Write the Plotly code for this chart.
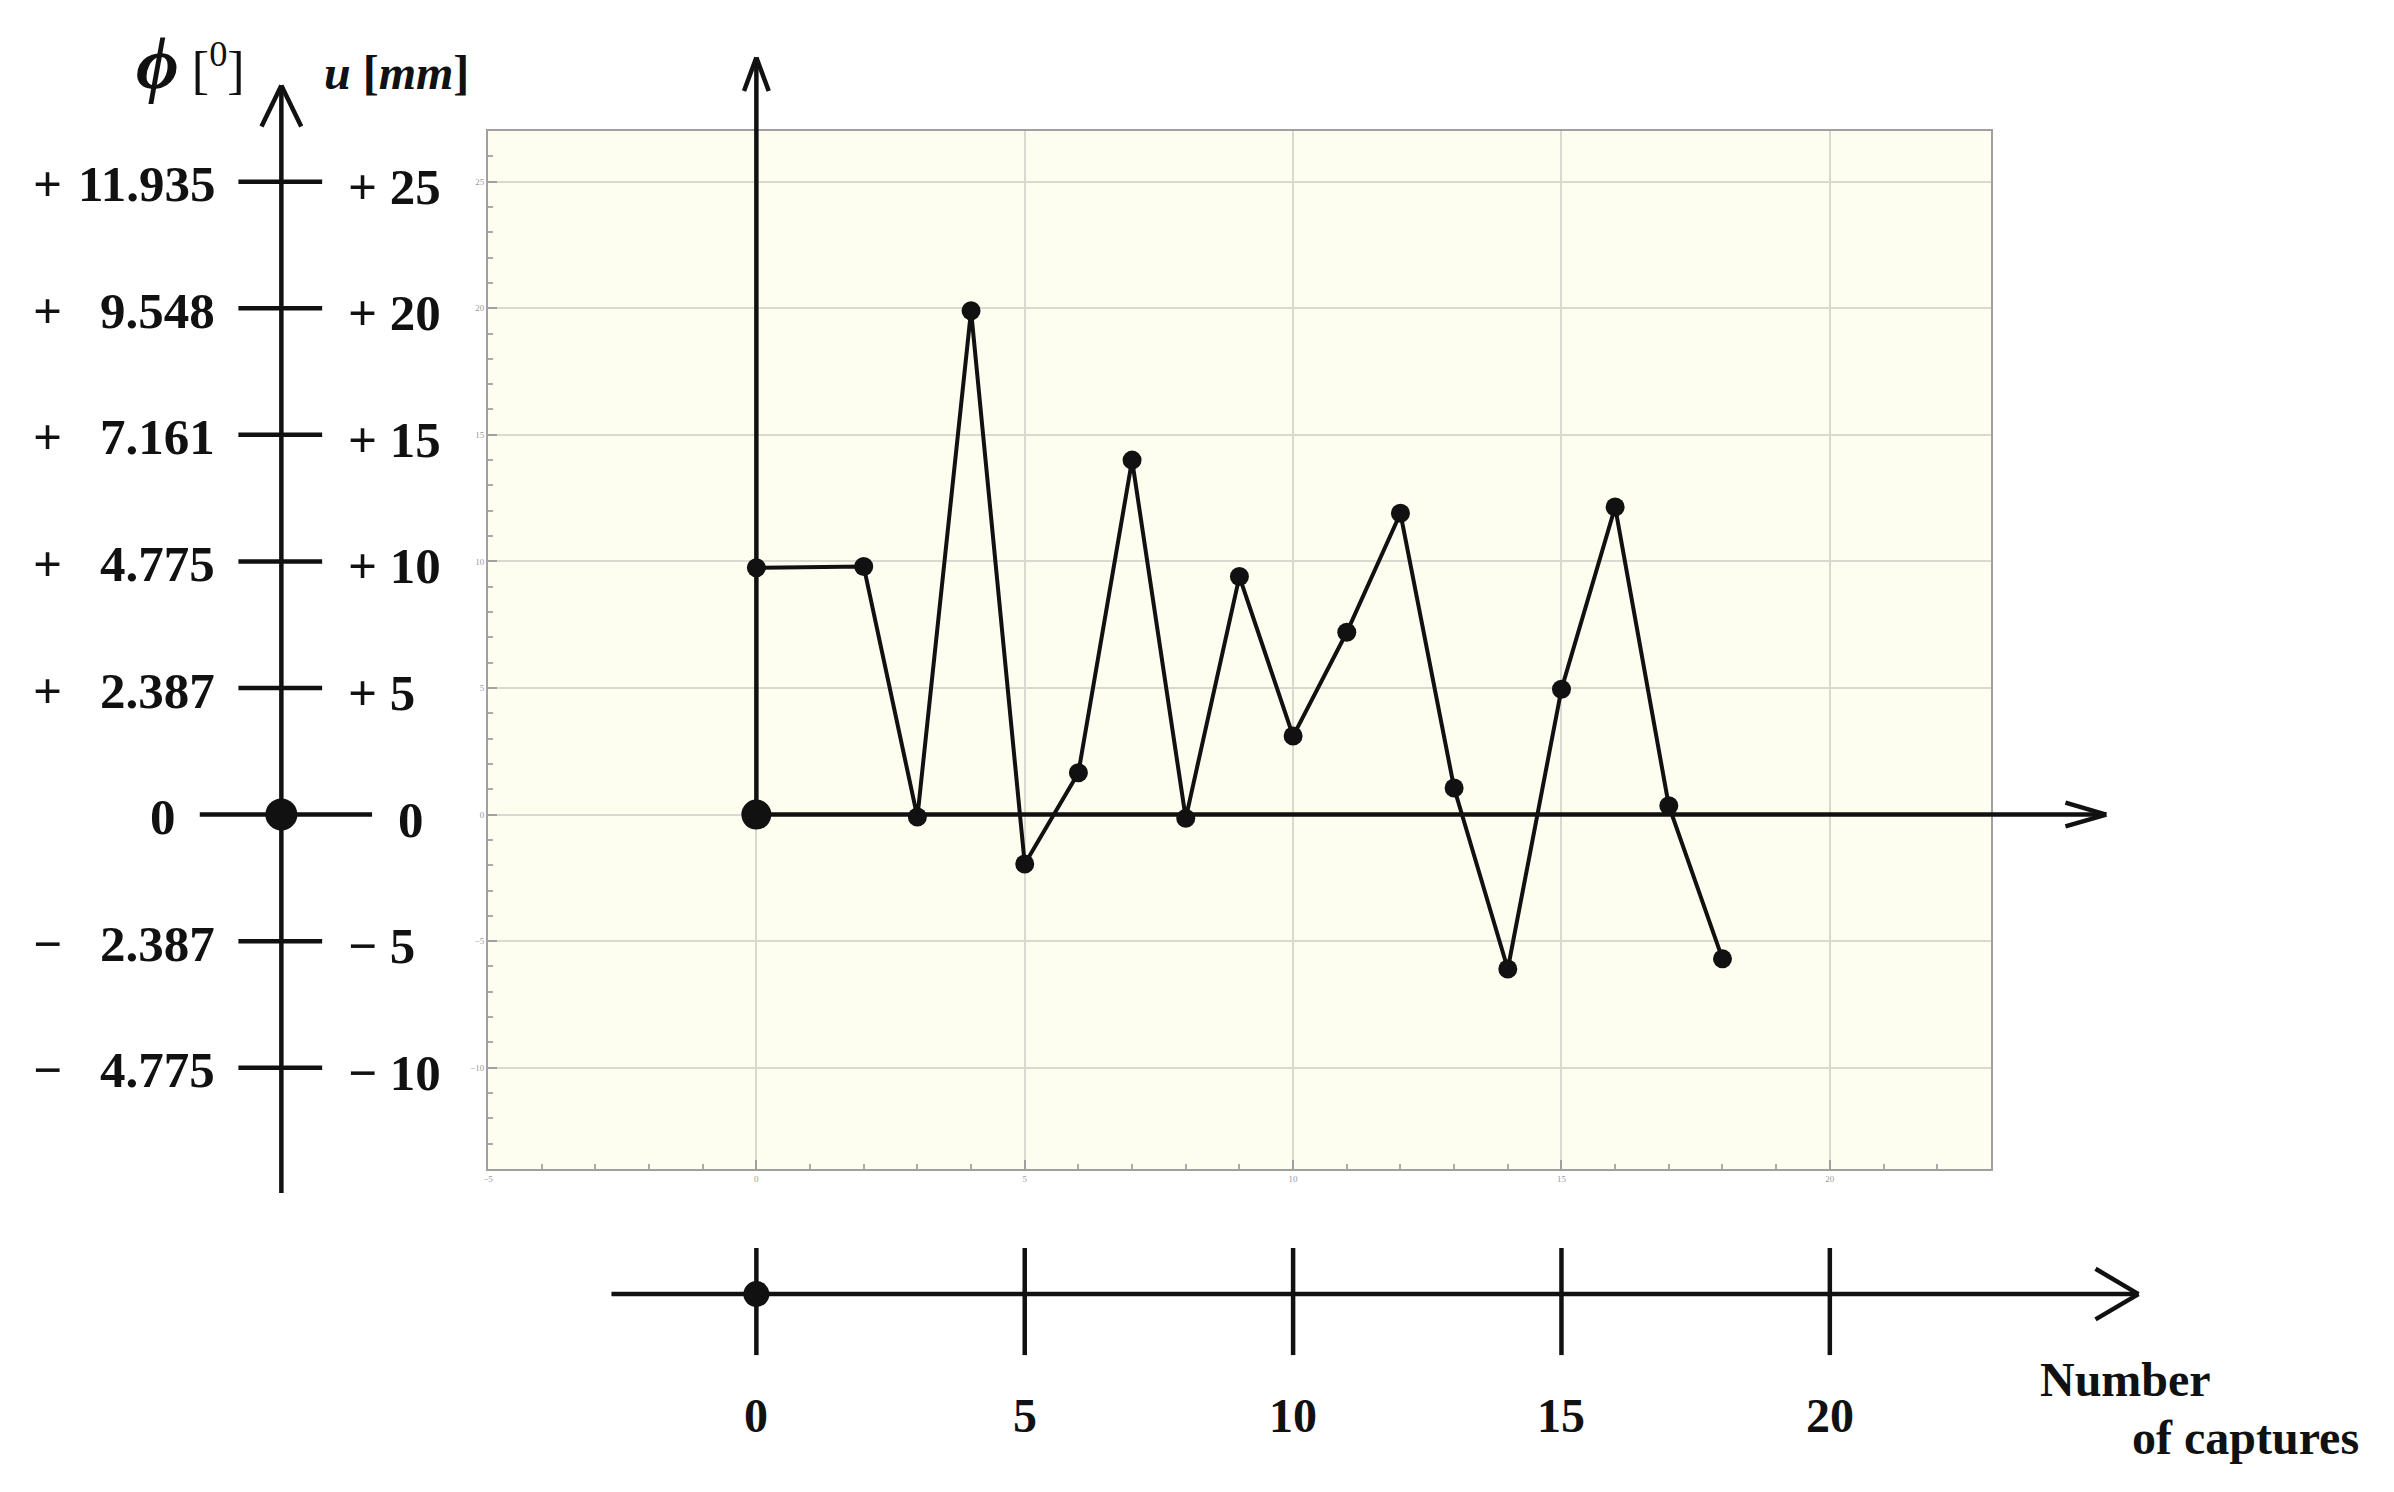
import plotly.graph_objects as go

# measured displacement u [mm] per capture
captures = [0, 2, 3, 4, 5, 6, 7, 8, 9, 10, 11, 12, 13, 14, 15, 16, 17, 18]
u_mm = [9.75, 9.8, -0.1, 19.9, -1.95, 1.65, 14.0, -0.15, 9.4, 3.1, 7.2,
        11.9, 1.05, -6.1, 4.95, 12.15, 0.35, -5.7]

# left double scale: u [mm] and matching rotation phi [deg]
u_ticks = [25, 20, 15, 10, 5, 0, -5, -10]
u_tick_text = ["+ 25", "+ 20", "+ 15", "+ 10", "+ 5", "0", "\u2212 5", "\u2212 10"]
phi_sign = ["+", "+", "+", "+", "+", "", "\u2212", "\u2212"]
phi_text = ["11.935", "9.548", "7.161", "4.775", "2.387", "0", "2.387", "4.775"]

# bottom scale (number of captures)
count_ticks = [0, 5, 10, 15, 20]
count_tick_text = ["0", "5", "10", "15", "20"]

# inner graph
x_range = [-5, 23]
y_range = [-14, 27]

# page is drawn with the default 8px body margin
OFF = 8
W, H = 2394 - OFF, 1492 - OFF
BOX_L, BOX_R, BOX_T, BOX_B = 484 - OFF, 1990 - OFF, 131 - OFF, 1169 - OFF

# overlay axes spanning the whole figure, same units as the inner graph
px_x = (BOX_R - BOX_L) / (x_range[1] - x_range[0])
px_y = (BOX_B - BOX_T) / (y_range[1] - y_range[0])
full_x = [x_range[0] - BOX_L / px_x, x_range[1] + (W - BOX_R) / px_x]
full_y = [y_range[0] - (H - BOX_B) / px_y, y_range[1] + BOX_T / px_y]

LEFT_X = -8.85
BOTTOM_Y = -18.94
FONT = "Liberation Serif"
INK = "#111111"

xs, ys = [], []


def seg(x0, y0, x1, y1):
    xs.extend([x0, x1, None])
    ys.extend([y0, y1, None])


def chevron(tx, ty, dx, dy, horizontal=True):
    if horizontal:
        seg(tx - dx, ty + dy, tx, ty)
        seg(tx, ty, tx - dx, ty - dy)
    else:
        seg(tx - dx, ty - dy, tx, ty)
        seg(tx, ty, tx + dx, ty - dy)


# data axes drawn into the graph
seg(0, 0, 25.15, 0)
chevron(25.15, 0, 0.76, 0.47)
seg(0, 0, 0, 29.9)
chevron(0, 29.9, 0.23, 1.32, horizontal=False)

# left double scale
seg(LEFT_X, -14.95, LEFT_X, 28.8)
chevron(LEFT_X, 28.8, 0.37, 1.62, horizontal=False)
for u in u_ticks:
    if u == 0:
        seg(-10.37, u, -7.16, u)
    else:
        seg(-9.65, u, -8.09, u)

# bottom scale
seg(-2.7, BOTTOM_Y, 25.75, BOTTOM_Y)
chevron(25.75, BOTTOM_Y, 0.8, 1.0)
for c in count_ticks:
    seg(c, -17.12, c, -21.35)

fig = go.Figure()

fig.add_trace(go.Scatter(
    x=captures, y=u_mm, mode="lines+markers",
    line=dict(color=INK, width=4),
    marker=dict(color=INK, size=19, opacity=1),
    hoverinfo="skip",
))
fig.add_trace(go.Scatter(
    x=xs, y=ys, mode="lines", line=dict(color=INK, width=4.5),
    xaxis="x2", yaxis="y2", hoverinfo="skip",
))
fig.add_trace(go.Scatter(
    x=[0, LEFT_X, 0], y=[0, 0, BOTTOM_Y], mode="markers",
    marker=dict(color=INK, size=[30, 32, 26], opacity=1,
                line=dict(width=0)),
    xaxis="x2", yaxis="y2", hoverinfo="skip",
))

ann = []


def label(x, y, text, size=51, anchor="center"):
    ann.append(dict(
        x=x, y=y, xref="x2", yref="y2", text=text, showarrow=False,
        xanchor=anchor, yanchor="middle",
        font=dict(family=FONT, size=size, color=INK),
    ))


for u, ut, sg, pt in zip(u_ticks, u_tick_text, phi_sign, phi_text):
    zero = u == 0
    left_end = -10.37 if zero else -9.65
    right_end = -7.16 if zero else -8.09
    label(left_end - 0.4, u - 0.1, "<b>%s</b>" % pt, anchor="right")
    if sg:
        label(-13.2, u - 0.1, "<b>%s</b>" % sg)
    label(right_end + 0.45, u - 0.2, "<b>%s</b>" % ut, anchor="left")

for c, ct in zip(count_ticks, count_tick_text):
    label(c, -23.75, "<b>%s</b>" % ct, size=48)

label(25.5, -22.3, "<b>Number</b>", size=48)
label(27.75, -24.6, "<b>of captures</b>", size=48)

label(-11.6, 29.7,
      "<b><i><span style='font-size:74px'>\u03d5</span></i></b>"
      " [<sup>0</sup>]", size=52, anchor="left")
label(-8.1, 29.3, "<b><i>u</i> [<i>mm</i>]</b>", size=48, anchor="left")

grid_style = dict(
    tick0=0, dtick=5,
    showgrid=True, gridcolor="#d9d9cf", gridwidth=1.5,
    showline=True, linecolor="#a0a0a0", linewidth=2, mirror=True,
    ticks="inside", ticklen=9, tickcolor="#a0a0a0", tickwidth=1.5,
    tickfont=dict(family=FONT, size=9, color="#9a9a9a"),
    minor=dict(tick0=0, dtick=1, ticks="inside", ticklen=5,
               tickcolor="#ababab"),
    zeroline=False,
)

fig.update_layout(
    width=W, height=H,
    margin=dict(l=0, r=0, t=0, b=0),
    paper_bgcolor="white", plot_bgcolor="rgba(0,0,0,0)",
    showlegend=False,
    xaxis=dict(domain=[BOX_L / W, BOX_R / W], range=x_range,
               anchor="y", **grid_style),
    yaxis=dict(domain=[1 - BOX_B / H, 1 - BOX_T / H], range=y_range,
               anchor="x", **grid_style),
    xaxis2=dict(domain=[0, 1], range=full_x, visible=False, anchor="y2"),
    yaxis2=dict(domain=[0, 1], range=full_y, visible=False, anchor="x2"),
    shapes=[dict(type="rect", xref="x domain", yref="y domain",
                 x0=0, x1=1, y0=0, y1=1, fillcolor="#fdfdf0",
                 line=dict(width=0), layer="below")],
    annotations=ann,
)

fig.write_html("out.html")
